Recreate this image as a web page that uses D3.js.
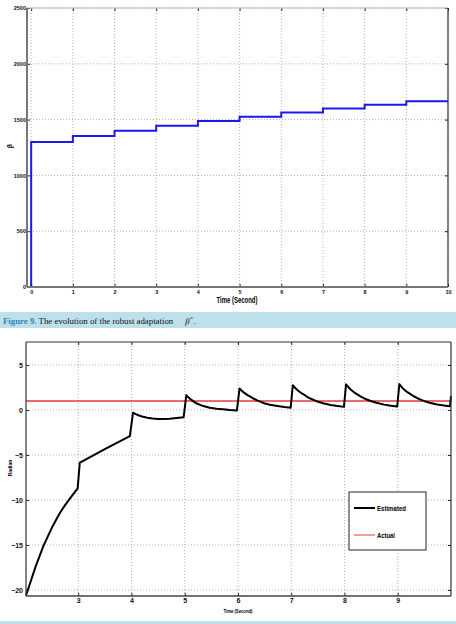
<!DOCTYPE html>
<html><head><meta charset="utf-8">
<script src="https://cdn.jsdelivr.net/npm/d3@7/dist/d3.min.js"></script>
<style>
body{margin:0;background:#fff}
svg{display:block}
text{font-family:"Liberation Sans",Arial,sans-serif}
</style>
</head><body>
<svg id="c" width="456" height="624"></svg>
<script>
// ---- Data: Figure 9 (robust adaptation beta-hat) ----
const betaStepTimes = [0,1,2,3,4,5,6,7,8,9,10];
const betaLevels    = [1300,1352,1400,1445,1488,1525,1563,1600,1632,1665];
const topXTicks = [0,1,2,3,4,5,6,7,8,9,10];
const topYTicks = [0,500,1000,1500,2000,2500];

// ---- Data: bottom chart (Estimated vs Actual, Radian) ----
const estTime  = [2.02,2.1,2.2,2.34,2.45,2.53,2.65,2.75,2.85,2.94,2.99,3.03,3.12,3.5,3.97,
                  4.03,4.08,4.12,4.17,4.22,4.3,4.4,4.5,4.6,4.72,4.85,4.98,
                  5.03,5.08,5.12,5.17,5.22,5.3,5.35,5.47,5.6,5.72,5.85,5.98,
                  6.03,6.08,6.12,6.18,6.24,6.3,6.37,6.43,6.49,6.6,6.74,6.87,6.99,
                  7.03,7.08,7.12,7.18,7.24,7.3,7.37,7.43,7.49,7.6,7.74,7.87,7.99,
                  8.03,8.08,8.12,8.18,8.24,8.3,8.37,8.43,8.49,8.6,8.74,8.87,8.99,
                  9.03,9.08,9.12,9.18,9.24,9.3,9.37,9.43,9.49,9.6,9.74,9.87,9.98,10.0];
const estValue = [-20.6,-19.2,-17.4,-15.2,-13.8,-12.8,-11.5,-10.6,-9.8,-9.1,-8.7,-5.85,-5.56,-4.35,-2.9,
                  -0.3,-0.45,-0.55,-0.66,-0.75,-0.85,-0.94,-0.99,-1.0,-0.96,-0.88,-0.8,
                  1.65,1.35,1.15,0.93,0.75,0.55,0.45,0.25,0.14,0.08,0.0,-0.05,
                  2.4,2.1,1.9,1.65,1.45,1.25,1.05,0.9,0.75,0.58,0.45,0.34,0.26,
                  2.75,2.42,2.2,1.92,1.7,1.47,1.25,1.1,0.95,0.75,0.55,0.44,0.35,
                  2.85,2.5,2.25,1.97,1.75,1.52,1.3,1.14,1.0,0.8,0.6,0.48,0.38,
                  2.88,2.52,2.27,1.98,1.76,1.53,1.31,1.15,1.01,0.81,0.62,0.5,0.42,1.55];
const actualTime  = [2.02,10];
const actualValue = [1,1];
const botXTicks = [3,4,5,6,7,8,9];
const botYTicks = [-20,-15,-10,-5,0,5];
const legendLabels = ["Estimated","Actual"];
const legendColors = ["#000","#e53a3a"];

const svg = d3.select("#c");

function frame(g, x, y, xTicks, yTicks){
  const [x0,x1] = x.range(), [y0,y1] = y.range();
  g.append("g").selectAll("line").data(xTicks).join("line")
    .attr("x1",d=>x(d)).attr("x2",d=>x(d)).attr("y1",y0).attr("y2",y1)
    .attr("stroke","#9a9a9a").attr("stroke-width",0.8).attr("stroke-dasharray","1,2");
  g.append("g").selectAll("line").data(yTicks).join("line")
    .attr("x1",x0).attr("x2",x1).attr("y1",d=>y(d)).attr("y2",d=>y(d))
    .attr("stroke","#9a9a9a").attr("stroke-width",0.8).attr("stroke-dasharray","1,2");
}

function axes(g, x, y, xTicks, yTicks, opt){
  const [x0,x1] = x.range(), [y0,y1] = y.range();
  const xb = g.append("g").attr("transform",`translate(0,${y0})`)
    .call(d3.axisBottom(x).tickValues(xTicks).tickSizeInner(-3).tickSizeOuter(0).tickPadding(opt.xpad).tickFormat(d3.format("d")));
  const xt = g.append("g").attr("transform",`translate(0,${y1})`)
    .call(d3.axisTop(x).tickValues(xTicks).tickSizeInner(-3).tickSizeOuter(0).tickFormat(""));
  const yl = g.append("g").attr("transform",`translate(${x0},0)`)
    .call(d3.axisLeft(y).tickValues(yTicks).tickSizeInner(-3).tickSizeOuter(0).tickPadding(opt.ypad).tickFormat(d3.format("d")));
  const yr = g.append("g").attr("transform",`translate(${x1},0)`)
    .call(d3.axisRight(y).tickValues(yTicks).tickSizeInner(-3).tickSizeOuter(0).tickFormat(""));
  [xb,xt,yl,yr].forEach(a=>{
    a.select(".domain").remove();
    a.selectAll(".tick line").attr("stroke","#222").attr("stroke-width",1);
    a.selectAll("text").attr("font-size",opt.fs).attr("font-weight","bold").attr("fill","#111").attr("font-family","Liberation Sans, Arial, sans-serif");
  });
  g.append("line").attr("x1",x0).attr("x2",x1).attr("y1",y1).attr("y2",y1).attr("stroke",opt.topColor).attr("stroke-width",1);
  g.append("line").attr("x1",x1).attr("x2",x1).attr("y1",y0).attr("y2",y1).attr("stroke","#333").attr("stroke-width",1.2);
  g.append("line").attr("x1",x0).attr("x2",x1).attr("y1",y0).attr("y2",y0).attr("stroke",opt.axColor).attr("stroke-width",opt.axW);
  g.append("line").attr("x1",x0).attr("x2",x0).attr("y1",y0).attr("y2",y1).attr("stroke",opt.axColor).attr("stroke-width",opt.axW);
}

// ===== Top chart =====
{
  const x = d3.scaleLinear().domain([-0.1,10]).range([27,448]);
  const y = d3.scaleLinear().domain([0,2500]).range([287,8]);
  const g = svg.append("g");
  frame(g,x,y,topXTicks,topYTicks);
  const pts = [[betaStepTimes[0],0]];
  betaLevels.forEach((v,i)=>{ pts.push([betaStepTimes[i],v]); pts.push([betaStepTimes[i+1],v]); });
  g.append("path").datum(pts)
    .attr("d",d3.line().x(d=>x(d[0])).y(d=>y(d[1])))
    .attr("fill","none").attr("stroke","#1a1af0").attr("stroke-width",2);
  axes(g,x,y,topXTicks,topYTicks,{xpad:3,ypad:1,fs:"5.5px",topColor:"#bbb",axColor:"#777",axW:2});
  g.append("text").attr("x",237).attr("y",303).attr("text-anchor","middle")
    .attr("font-size","9px").attr("font-weight","bold").attr("textLength",41).attr("lengthAdjust","spacingAndGlyphs")
    .text("Time (Second)");
  g.append("text").attr("transform","translate(12,146) rotate(-90)").attr("text-anchor","middle")
    .attr("font-size","7px").attr("font-weight","bold").text("β");
}

// ===== Caption band =====
svg.append("rect").attr("x",0).attr("y",312).attr("width",456).attr("height",16).attr("fill","#bde0ea");
{
  const t = svg.append("text").attr("x",3).attr("y",324)
    .attr("font-family","Liberation Serif, Times New Roman, serif").attr("font-size","8.8px");
  t.append("tspan").attr("fill","#2e88b0").attr("font-weight","bold").attr("font-family","Liberation Serif, serif").text("Figure 9.");
  t.append("tspan").attr("fill","#111").attr("font-family","Liberation Serif, serif").text(" The evolution of the robust adaptation");
  t.append("tspan").attr("fill","#111").attr("font-style","italic").attr("dx",12).attr("font-family","Liberation Serif, serif").text("β̂");
  t.append("tspan").attr("fill","#111").attr("dx",2).attr("font-family","Liberation Serif, serif").text(" .");
}
svg.append("rect").attr("x",0).attr("y",621).attr("width",456).attr("height",3).attr("fill","#bde0ea");

// ===== Bottom chart =====
{
  const x = d3.scaleLinear().domain([2.02,10]).range([26,451]);
  const y = d3.scaleLinear().domain([-20.67,7.56]).range([596,342]);
  const g = svg.append("g");
  frame(g,x,y,botXTicks,botYTicks);
  g.append("path").datum(actualTime.map((t,i)=>[t,actualValue[i]]))
    .attr("d",d3.line().x(d=>x(d[0])).y(d=>y(d[1])))
    .attr("fill","none").attr("stroke",legendColors[1]).attr("stroke-width",1.6);
  g.append("path").datum(estTime.map((t,i)=>[t,estValue[i]]))
    .attr("d",d3.line().x(d=>x(d[0])).y(d=>y(d[1])))
    .attr("fill","none").attr("stroke",legendColors[0]).attr("stroke-width",2).attr("stroke-linejoin","round");
  axes(g,x,y,botXTicks,botYTicks,{xpad:2,ypad:3,fs:"7px",topColor:"#333",axColor:"#444",axW:1.3});
  g.append("text").attr("x",238).attr("y",613).attr("text-anchor","middle")
    .attr("font-size","5px").attr("font-weight","bold").attr("textLength",29).attr("lengthAdjust","spacingAndGlyphs")
    .text("Time (Second)");
  g.append("text").attr("transform","translate(12,468) rotate(-90)").attr("text-anchor","middle")
    .attr("font-size","5px").attr("font-weight","bold").text("Radian");
  const lg = g.append("g");
  lg.append("rect").attr("x",349).attr("y",492).attr("width",77).attr("height",58)
    .attr("fill","#fff").attr("stroke","#222").attr("stroke-width",1);
  legendLabels.forEach((lab,i)=>{
    const yy = 508 + i*27;
    lg.append("line").attr("x1",354).attr("x2",375).attr("y1",yy).attr("y2",yy)
      .attr("stroke",legendColors[i]).attr("stroke-width",i===0?2:1);
    lg.append("text").attr("x",377).attr("y",yy+2.5).attr("font-size","7.5px").attr("font-weight","bold")
      .attr("textLength",i===0?29:18).attr("lengthAdjust","spacingAndGlyphs").text(lab);
  });
}
</script>
</body></html>
